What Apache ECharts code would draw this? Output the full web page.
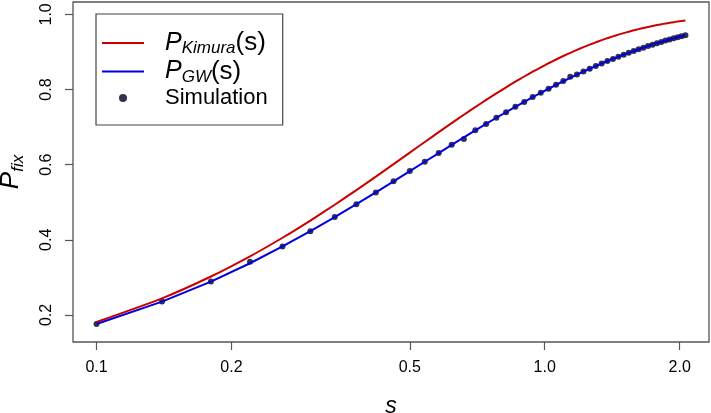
<!DOCTYPE html>
<html>
<head>
<meta charset="utf-8">
<script src="https://cdn.jsdelivr.net/npm/echarts@6/dist/echarts.min.js"></script>
<style>html,body{margin:0;padding:0;background:#fff}#c{width:711px;height:413px}</style>
</head>
<body>
<div id="c"></div>
<script>
// selection coefficient s (simulation grid)
var sValues = [0.10,0.14,0.18,0.22,0.26,0.30,0.34,0.38,0.42,0.46,0.50,0.54,0.58,0.62,0.66,0.70,0.74,0.78,0.82,0.86,0.90,0.94,0.98,1.02,1.06,1.10,1.14,1.18,1.22,1.26,1.30,1.34,1.38,1.42,1.46,1.50,1.54,1.58,1.62,1.66,1.70,1.74,1.78,1.82,1.86,1.90,1.94,1.98,2.02,2.06];
// P_Kimura(s) (red curve)
var kimura = [0.1813,0.2442,0.3023,0.3560,0.4055,0.4512,0.4934,0.5323,0.5683,0.6015,0.6321,0.6604,0.6865,0.7106,0.7329,0.7534,0.7724,0.7899,0.8060,0.8209,0.8347,0.8474,0.8591,0.8700,0.8800,0.8892,0.8977,0.9056,0.9128,0.9195,0.9257,0.9314,0.9367,0.9416,0.9461,0.9502,0.9540,0.9576,0.9608,0.9638,0.9666,0.9692,0.9716,0.9737,0.9758,0.9776,0.9793,0.9809,0.9824,0.9838];
// P_GW(s) (blue curve)
var gw = [0.1761,0.2354,0.2886,0.3376,0.3823,0.4230,0.4604,0.4950,0.5265,0.5558,0.5828,0.6078,0.6310,0.6526,0.6726,0.6912,0.7086,0.7249,0.7399,0.7540,0.7672,0.7796,0.7913,0.8021,0.8124,0.8221,0.8312,0.8397,0.8478,0.8553,0.8624,0.8692,0.8759,0.8816,0.8873,0.8926,0.8977,0.9026,0.9071,0.9115,0.9156,0.9195,0.9232,0.9267,0.9300,0.9332,0.9362,0.9391,0.9418,0.9444];
// Simulation points
var sim = [0.1758,0.2360,0.2890,0.3418,0.3820,0.4228,0.4608,0.4948,0.5262,0.5560,0.5830,0.6075,0.6312,0.6530,0.6684,0.6915,0.7083,0.7252,0.7397,0.7545,0.7668,0.7798,0.7915,0.8020,0.8128,0.8224,0.8340,0.8398,0.8480,0.8552,0.8628,0.8690,0.8762,0.8814,0.8876,0.8924,0.8980,0.9024,0.9073,0.9113,0.9158,0.9193,0.9234,0.9266,0.9302,0.9330,0.9364,0.9390,0.9420,0.9446];
// tick labels
var xTicks = [0.1, 0.2, 0.5, 1.0, 2.0];
var yTicks = [0.2, 0.4, 0.6, 0.8, 1.0];

function lg(v){ return Math.log(v) / Math.LN10; }
function pairs(xs, ys){ return xs.map(function(x, i){ return [lg(x), ys[i]]; }); }

var FONT = '"Liberation Sans", Arial, Helvetica, sans-serif';
var LINE_ICON = 'path://M0,0L42,0L42,2L0,2Z';
var chart = echarts.init(document.getElementById('c'), null, {renderer: 'canvas'});
chart.setOption({
  animation: false,
  backgroundColor: '#fff',
  grid: {left: 73, right: 2, top: 2, bottom: 71, show: true, borderColor: '#555', borderWidth: 1.3, containLabel: false, outerBoundsMode: 'none'},
  legend: {
    orient: 'vertical', left: 96, top: 14,
    padding: [16, 15, 16, 6],
    borderColor: '#444', borderWidth: 1.2, backgroundColor: '#fff',
    itemWidth: 42, itemHeight: 8, itemGap: 1.5, symbolKeepAspect: true,
    data: [{name: 'Kimura', icon: LINE_ICON}, {name: 'GW', icon: LINE_ICON}, {name: 'Simulation', icon: 'circle'}],
    formatter: function(name){
      if (name === 'Kimura') return '{p|P}{sub|Kimura}{n|(s)}';
      if (name === 'GW') return '{p|P}{sub|GW}{n|(s)}';
      return '{t|Simulation}';
    },
    textStyle: {
      padding: [0, 0, 0, 16],
      rich: {
        p: {fontFamily: FONT, fontSize: 25, fontStyle: 'italic', color: '#000', lineHeight: 28},
        sub: {fontFamily: FONT, fontSize: 17, fontStyle: 'italic', color: '#000', lineHeight: 16, verticalAlign: 'bottom'},
        n: {fontFamily: FONT, fontSize: 26, color: '#000', lineHeight: 28},
        t: {fontFamily: FONT, fontSize: 22, color: '#000', lineHeight: 28}
      }
    }
  },
  xAxis: {
    type: 'value', min: -1.0525, max: 0.3665,
    name: 's', nameLocation: 'middle', nameGap: 53,
    nameTextStyle: {fontFamily: FONT, fontSize: 23, fontStyle: 'italic', color: '#000'},
    axisLine: {show: false, onZero: false},
    axisTick: {show: true, length: 8, inside: false, lineStyle: {color: '#555', width: 1.2}, customValues: xTicks.map(lg)},
    axisLabel: {show: true, margin: 18, fontFamily: FONT, fontSize: 16, color: '#000', customValues: xTicks.map(lg),
      formatter: function(v){ return Math.pow(10, v).toFixed(1); }},
    splitLine: {show: false}
  },
  yAxis: {
    type: 'value', min: 0.128, max: 1.033,
    name: '{p|P}{sub|fix}', nameLocation: 'middle', nameGap: 46, nameRotate: 90,
    nameTextStyle: {rich: {
      p: {fontFamily: FONT, fontSize: 26, fontStyle: 'italic', color: '#000', lineHeight: 32},
      sub: {fontFamily: FONT, fontSize: 17, fontStyle: 'italic', color: '#000', lineHeight: 18, verticalAlign: 'bottom'}
    }},
    axisLine: {show: false, onZero: false},
    axisTick: {show: true, length: 8, lineStyle: {color: '#555', width: 1.2}, customValues: yTicks},
    axisLabel: {show: true, margin: 18, rotate: 90, fontFamily: FONT, fontSize: 16, color: '#000', customValues: yTicks,
      formatter: function(v){ return v.toFixed(1); }},
    splitLine: {show: false}
  },
  series: [
    {name: 'Simulation', type: 'scatter', data: pairs(sValues, sim), symbol: 'circle', symbolSize: 6,
     itemStyle: {color: '#000022'}, z: 2},
    {name: 'Kimura', type: 'line', data: pairs(sValues, kimura), symbol: 'none', showSymbol: false, smooth: 0.2,
     lineStyle: {color: '#cc0000', width: 2}, itemStyle: {color: '#cc0000'}, z: 3},
    {name: 'GW', type: 'line', data: pairs(sValues, gw), symbol: 'none', showSymbol: false,
     lineStyle: {color: '#0000dd', width: 2}, itemStyle: {color: '#0000dd'}, z: 4}
  ]
});
</script>
</body>
</html>
